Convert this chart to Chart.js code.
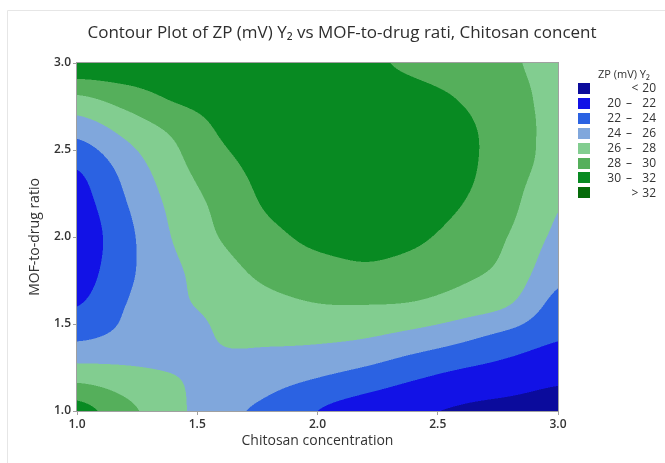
<!DOCTYPE html>
<html>
<head>
<meta charset="utf-8">
<title>Contour Plot of ZP</title>
<script src="https://cdn.jsdelivr.net/npm/chart.js@4.4.1/dist/chart.umd.min.js"></script>
<style>
  html, body { margin: 0; padding: 0; background: #fff; }
  #wrap { position: relative; width: 665px; height: 463px; }
</style>
</head>
<body>
<div id="wrap"><canvas id="contour-chart" width="665" height="463"></canvas></div>
<script>
// grid positions (Chitosan concentration across, MOF-to-drug ratio down from the top)
var xValues = [1.0, 1.2, 1.4, 1.6, 1.8, 2.0, 2.2, 2.4, 2.6, 2.8, 3.0];
var yValues = [3.0, 2.8, 2.6, 2.4, 2.2, 2.0, 1.8, 1.6, 1.4, 1.2, 1.0];

// ZP (mV), one row per MOF-to-drug ratio
var zpAt30 = [31.5, 31.5, 31.4, 31.3, 31.1, 30.9, 30.4, 29.6, 28.9, 28.2, 27.5];
var zpAt28 = [27.7, 28.9, 30.2, 30.7, 31.0, 31.2, 31.1, 30.7, 29.85, 28.6, 27.5];
var zpAt26 = [24.5, 26.4, 28.25, 30.15, 30.8, 31.3, 31.5, 31.3, 30.5, 28.85, 27.5];
var zpAt24 = [22.1, 24.7, 27.3, 29.4, 30.6, 31.2, 31.5, 31.4, 30.5, 28.8, 27.3];
var zpAt22 = [21.2, 23.9, 26.55, 28.6, 30.3, 31.0, 31.3, 31.0, 30.05, 28.5, 26.2];
var zpAt20 = [20.7, 23.4, 26.1, 28.1, 29.5, 30.4, 30.5, 30.3, 29.3, 27.9, 25.6];
var zpAt18 = [21.0, 23.5, 25.6, 27.2, 28.6, 29.3, 29.7, 29.3, 28.5, 27.3, 24.6];
var zpAt16 = [22.0, 24.0, 25.6, 26.4, 27.3, 27.85, 27.9, 27.7, 26.9, 25.9, 23.3];
var zpAt14 = [24.0, 24.6, 25.0, 26.05, 26.2, 26.15, 25.8, 25.0, 24.1, 23.0, 22.0];
var zpAt12 = [27.3, 26.7, 26.05, 25.4, 24.8, 24.1, 23.3, 22.3, 21.5, 21.0, 20.4];
var zpAt10 = [30.8, 28.6, 26.6, 24.6, 23.5, 22.0, 21.0, 20.3, 19.8, 19.5, 19.2];

var zGrid = [zpAt30, zpAt28, zpAt26, zpAt24, zpAt22, zpAt20, zpAt18, zpAt16, zpAt14, zpAt12, zpAt10];

// contour levels and their fills
var levels = [20, 22, 24, 26, 28, 30, 32];
var levelColors = ['#0b0b9c', '#1212e6', '#2b62e2', '#80a7dc', '#82cd90', '#55af5b', '#088a22', '#066b0a'];

var xTicks = [1.0, 1.5, 2.0, 2.5, 3.0];
var yTicks = [1.0, 1.5, 2.0, 2.5, 3.0];

var chartTitle = 'Contour Plot of ZP (mV) Y\u2082 vs MOF-to-drug rati, Chitosan concent';
var legendTitle = 'ZP (mV) Y\u2082';
var FONT = '"Open Sans", "Noto Sans", sans-serif';

// catmull-rom weight
function crw(n, t) {
    var t2 = t * t, t3 = t2 * t;
    if (n === -1) return (-t3 + 2 * t2 - t) / 2;
    if (n === 0) return (3 * t3 - 5 * t2 + 2) / 2;
    if (n === 1) return (-3 * t3 + 4 * t2 + t) / 2;
    return (t3 - t2) / 2;
}

function clampIdx(i, n) { return i < 0 ? 0 : (i > n - 1 ? n - 1 : i); }

function sampleZ(xv, yv) {
    var gx = (xv - xValues[0]) / (xValues[1] - xValues[0]);
    var gy = (yv - yValues[0]) / (yValues[1] - yValues[0]);
    var ix = Math.floor(gx), iy = Math.floor(gy);
    var tx = gx - ix, ty = gy - iy;
    var sum = 0;
    for (var m = -1; m <= 2; m++) {
        var row = zGrid[clampIdx(iy + m, yValues.length)];
        var rs = 0;
        for (var n = -1; n <= 2; n++) {
            rs += row[clampIdx(ix + n, xValues.length)] * crw(n, tx);
        }
        sum += rs * crw(m, ty);
    }
    return sum;
}

function levelIndex(z) {
    var k = 0;
    while (k < levels.length && z >= levels[k]) k++;
    return k;
}

function hexRgb(h) {
    return [parseInt(h.substr(1, 2), 16), parseInt(h.substr(3, 2), 16), parseInt(h.substr(5, 2), 16)];
}

var gridPoints = [];
yValues.forEach(function(yv, r) {
    xValues.forEach(function(xv, c) {
        gridPoints.push({ x: xv, y: yv, z: zGrid[r][c] });
    });
});

var contourFill = {
    id: 'contourFill',
    beforeDatasetsDraw: function(chart) {
        var ctx = chart.ctx, area = chart.chartArea;
        var xs = chart.scales.x, ys = chart.scales.y;
        var ss = 2;
        var w = Math.round(area.right - area.left), h = Math.round(area.bottom - area.top);
        var off = document.createElement('canvas');
        off.width = w * ss; off.height = h * ss;
        var octx = off.getContext('2d');
        var img = octx.createImageData(w * ss, h * ss);
        var rgb = levelColors.map(hexRgb);
        for (var py = 0; py < h * ss; py++) {
            var yv = ys.getValueForPixel(area.top + (py + 0.5) / ss);
            for (var px = 0; px < w * ss; px++) {
                var xv = xs.getValueForPixel(area.left + (px + 0.5) / ss);
                var c = rgb[levelIndex(sampleZ(xv, yv))];
                var o = (py * w * ss + px) * 4;
                img.data[o] = c[0]; img.data[o + 1] = c[1]; img.data[o + 2] = c[2]; img.data[o + 3] = 255;
            }
        }
        octx.putImageData(img, 0, 0);
        ctx.save();
        ctx.imageSmoothingEnabled = true;
        ctx.drawImage(off, area.left, area.top, w, h);
        ctx.strokeStyle = '#a0a0a0';
        ctx.lineWidth = 1;
        ctx.strokeRect(area.left - 0.5, area.top - 0.5, w + 1, h + 1);
        ctx.restore();
    },
    afterDraw: function(chart) {
        var ctx = chart.ctx;
        ctx.save();
        // faint frame of the original screenshot
        ctx.strokeStyle = '#e6e6e6';
        ctx.beginPath();
        ctx.moveTo(7.5, 463); ctx.lineTo(7.5, 10.5); ctx.lineTo(665, 10.5);
        ctx.stroke();

        // title, fitted to the width it has in the original
        var size = 16;
        ctx.font = size + 'px ' + FONT;
        var tw = ctx.measureText(chartTitle).width;
        size = size * 509 / tw;
        ctx.font = size.toFixed(2) + 'px ' + FONT;
        ctx.fillStyle = '#2e2e2e';
        ctx.textAlign = 'center';
        ctx.textBaseline = 'middle';
        ctx.fillText(chartTitle, 342, 33);

        // legend
        ctx.font = '11px ' + FONT;
        ctx.textAlign = 'left';
        ctx.fillStyle = '#333';
        ctx.fillText(legendTitle, 598, 75);
        ctx.font = '12px ' + FONT;
        for (var i = 0; i < levelColors.length; i++) {
            var yc = 88 + i * 14.9;
            ctx.fillStyle = levelColors[i];
            ctx.fillRect(578, Math.round(yc - 5), 12, 11);
            ctx.fillStyle = '#333';
            if (i === 0 || i === levelColors.length - 1) {
                ctx.textAlign = 'center';
                ctx.fillText(i === 0 ? '<' : '>', 635, yc + 1);
                ctx.textAlign = 'right';
                ctx.fillText(String(i === 0 ? levels[0] : levels[levels.length - 1]), 656, yc + 1);
            } else {
                ctx.textAlign = 'right';
                ctx.fillText(String(levels[i - 1]), 621, yc + 1);
                ctx.textAlign = 'center';
                ctx.fillText('\u2013', 629, yc + 1);
                ctx.textAlign = 'right';
                ctx.fillText(String(levels[i]), 656, yc + 1);
            }
        }
        ctx.restore();
    }
};

var ctx = document.getElementById('contour-chart').getContext('2d');

var chart = new Chart(ctx, {
    type: 'scatter',
    data: {
        datasets: [{
            label: 'ZP (mV) Y2',
            data: gridPoints,
            pointRadius: 0,
            pointHoverRadius: 0
        }]
    },
    options: {
        responsive: false,
        animation: false,
        layout: { padding: { top: 63, right: 107, left: 0, bottom: 0 } },
        plugins: {
            legend: { display: false },
            title: { display: false },
            tooltip: { enabled: false }
        },
        scales: {
            x: {
                type: 'linear',
                min: 1, max: 3,
                afterBuildTicks: function(s) { s.ticks = xTicks.map(function(v) { return { value: v }; }); },
                afterFit: function(s) { s.height = 52; },
                ticks: {
                    callback: function(v) { return v.toFixed(1); },
                    color: '#333',
                    font: { family: FONT, size: 12, weight: '600' },
                    padding: 2,
                    maxRotation: 0
                },
                grid: { drawOnChartArea: false, drawTicks: true, tickLength: 4, color: '#a0a0a0' },
                border: { color: '#a0a0a0' },
                title: {
                    display: true,
                    text: 'Chitosan concentration',
                    color: '#333',
                    font: { family: FONT, size: 14 },
                    padding: { top: 0, bottom: 14 }
                }
            },
            y: {
                type: 'linear',
                min: 1, max: 3,
                afterBuildTicks: function(s) { s.ticks = yTicks.map(function(v) { return { value: v }; }); },
                afterFit: function(s) { s.width = 77; },
                ticks: {
                    callback: function(v) { return v.toFixed(1); },
                    color: '#333',
                    font: { family: FONT, size: 12, weight: '600' },
                    padding: 2
                },
                grid: { drawOnChartArea: false, drawTicks: true, tickLength: 4, color: '#a0a0a0' },
                border: { color: '#a0a0a0' },
                title: {
                    display: true,
                    text: 'MOF-to-drug ratio',
                    color: '#333',
                    font: { family: FONT, size: 14 },
                    padding: { top: 27, bottom: 0 }
                }
            }
        }
    },
    plugins: [contourFill]
});
</script>
</body>
</html>
